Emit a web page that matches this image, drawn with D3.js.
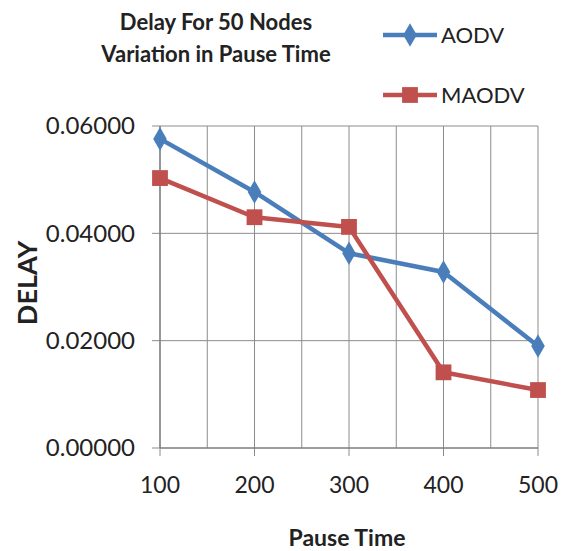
<!DOCTYPE html>
<html>
<head>
<meta charset="utf-8">
<script src="https://cdn.jsdelivr.net/npm/d3@7"></script>
<style>
  html, body { margin: 0; padding: 0; background: #fff; }
  svg { display: block; }
  text { font-family: Lato, "Open Sans", sans-serif; fill: #222; }
</style>
</head>
<body>
<svg id="chart" width="567" height="551"></svg>
<script>
// Pause time (s) on the x axis
const pauseTimes = [100, 200, 300, 400, 500];
// Average end-to-end delay per protocol
const aodvDelay  = [0.0576, 0.0477, 0.0363, 0.0328, 0.0190];
const maodvDelay = [0.0503, 0.0430, 0.0412, 0.0141, 0.0108];
const seriesNames = ["AODV", "MAODV"];
const yTicks = [0, 0.02, 0.04, 0.06];
const xTicks = [100, 200, 300, 400, 500];
const xGrid  = [100, 150, 200, 250, 300, 350, 400, 450, 500];
const titleLines = ["Delay For 50 Nodes", "Variation in Pause Time"];

const colors = { AODV: "#4a7ebb", MAODV: "#c0504d" };

const svg = d3.select("#chart");
const plotLeft = 160, plotRight = 538, plotTop = 126, plotBottom = 448;

const x = d3.scaleLinear().domain([100, 500]).range([plotLeft, plotRight]);
const y = d3.scaleLinear().domain([0, 0.06]).range([plotBottom, plotTop]);

const grid = svg.append("g");
// vertical gridlines
grid.selectAll("line.v").data(xGrid).join("line")
  .attr("x1", d => x(d)).attr("x2", d => x(d))
  .attr("y1", plotTop).attr("y2", d => xTicks.includes(d) ? plotBottom + 8 : plotBottom)
  .attr("stroke", "#8c8c8c").attr("stroke-width", 1);
// horizontal gridlines with left tick marks
grid.selectAll("line.h").data(yTicks).join("line")
  .attr("x1", plotLeft - 8).attr("x2", plotRight)
  .attr("y1", d => y(d)).attr("y2", d => y(d))
  .attr("stroke", "#8c8c8c").attr("stroke-width", 1);
// axis lines
svg.append("line").attr("x1", plotLeft).attr("x2", plotLeft).attr("y1", plotTop).attr("y2", plotBottom)
  .attr("stroke", "#777").attr("stroke-width", 1.2);
svg.append("line").attr("x1", plotLeft).attr("x2", plotRight).attr("y1", plotBottom).attr("y2", plotBottom)
  .attr("stroke", "#777").attr("stroke-width", 1.2);

// y tick labels
svg.append("g").selectAll("text").data(yTicks).join("text")
  .attr("x", plotLeft - 25).attr("y", d => y(d)).attr("dy", "0.35em")
  .attr("text-anchor", "end").attr("font-size", 24).attr("fill", "#333")
  .text(d => d3.format(".5f")(d));

// x tick labels
svg.append("g").selectAll("text").data(xTicks).join("text")
  .attr("x", d => x(d)).attr("y", 493)
  .attr("text-anchor", "middle").attr("font-size", 23).attr("fill", "#333")
  .text(d => d);

// axis titles
svg.append("text").attr("x", 347).attr("y", 546).attr("text-anchor", "middle")
  .attr("font-size", 23).attr("font-weight", "bold").text("Pause Time");
svg.append("text").attr("transform", "translate(37,283) rotate(-90)")
  .attr("text-anchor", "middle").attr("font-size", 27).attr("font-weight", "bold").text("DELAY");

// chart title
svg.append("g").selectAll("text").data(titleLines).join("text")
  .attr("x", 216).attr("y", (d, i) => 30 + i * 32)
  .attr("text-anchor", "middle").attr("font-size", 22).attr("font-weight", "bold")
  .text(d => d);

const line = d3.line().x((d, i) => x(pauseTimes[i])).y(d => y(d));
const series = [
  { name: "AODV", values: aodvDelay, symbol: d3.symbolDiamond, size: 160 },
  { name: "MAODV", values: maodvDelay, symbol: d3.symbolSquare, size: 250 }
];

series.forEach(s => {
  svg.append("path").datum(s.values).attr("d", line)
    .attr("fill", "none").attr("stroke", colors[s.name]).attr("stroke-width", 4.5)
    .attr("stroke-linejoin", "round");
  svg.append("g").selectAll("path").data(s.values).join("path")
    .attr("transform", (d, i) => `translate(${x(pauseTimes[i])},${y(d)})`)
    .attr("d", d3.symbol().type(s.symbol).size(s.size))
    .attr("fill", colors[s.name]);
});

// legend
const legendY = [35, 95];
series.forEach((s, i) => {
  const g = svg.append("g").attr("transform", `translate(0,${legendY[i]})`);
  g.append("line").attr("x1", 383).attr("x2", 437).attr("y1", 0).attr("y2", 0)
    .attr("stroke", colors[s.name]).attr("stroke-width", 4.5);
  g.append("path").attr("transform", "translate(410,0)")
    .attr("d", d3.symbol().type(s.symbol).size(s.size)).attr("fill", colors[s.name]);
  g.append("text").attr("x", 441).attr("y", 0).attr("dy", "0.36em")
    .attr("font-size", 22).attr("fill", "#333").text(seriesNames[i]);
});
</script>
</body>
</html>
